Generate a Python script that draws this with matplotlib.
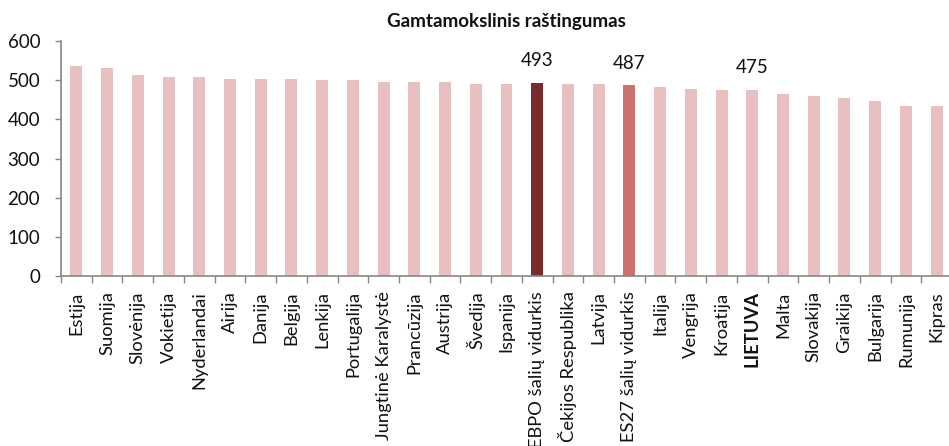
import matplotlib
matplotlib.use("Agg")
import matplotlib.pyplot as plt
import numpy as np

categories = ["Estija", "Suomija", "Slovėnija", "Vokietija", "Nyderlandai", "Airija",
              "Danija", "Belgija", "Lenkija", "Portugalija", "Jungtinė Karalystė",
              "Prancūzija", "Austrija", "Švedija", "Ispanija", "EBPO šalių vidurkis",
              "Čekijos Respublika", "Latvija", "ES27 šalių vidurkis", "Italija",
              "Vengrija", "Kroatija", "LIETUVA", "Malta", "Slovakija", "Graikija",
              "Bulgarija", "Rumunija", "Kipras"]
values = [535, 530, 512, 508, 508, 504, 504, 504, 500, 500, 495, 495, 495, 491,
          491, 493, 491, 491, 487, 482, 477, 476, 475, 464, 460, 455, 447, 434, 434]
labelled = {"EBPO šalių vidurkis": "493", "ES27 šalių vidurkis": "487", "LIETUVA": "475"}
yticks = [0, 100, 200, 300, 400, 500, 600]
title = "Gamtamokslinis raštingumas"

plt.rcParams['font.family'] = ['Lato', 'DejaVu Sans']

fig = plt.figure(figsize=(9.49, 4.46), dpi=100)
ax = fig.add_axes([61 / 949, (446 - 276) / 446, (952 - 61) / 949, (276 - 41) / 446])

c_light = "#E8C0C0"
c_dark = "#7A2C2C"
c_mid = "#CC7170"
colors = []
for c in categories:
    if c == "EBPO šalių vidurkis":
        colors.append(c_dark)
    elif c == "ES27 šalių vidurkis":
        colors.append(c_mid)
    else:
        colors.append(c_light)

x = np.arange(len(categories))
ax.bar(x, values, width=0.39, color=colors, zorder=2)

for i, c in enumerate(categories):
    if c in labelled:
        ax.annotate(labelled[c], (x[i], values[i]), xytext=(0, 12),
                    textcoords='offset points', ha='center', va='baseline',
                    fontsize=13.5, color='#111111')

ax.set_xlim(-0.5, len(categories) - 0.5)
ax.set_ylim(0, 600)
ax.set_yticks(yticks)
ax.tick_params(axis='y', length=4.5, width=1, color='#868686', pad=10.5,
               labelsize=13.5, labelcolor='#111111')

ax.set_xticks(x)
ax.set_xticklabels(categories, rotation=90, fontsize=13.2, color='#111111',
                   va='top', ha='center')
ax.set_xticks(np.arange(-0.5, len(categories), 1), minor=True)
ax.tick_params(axis='x', which='major', length=0, pad=11)
ax.tick_params(axis='x', which='minor', length=5, width=1, color='#868686')
for lbl in ax.get_xticklabels():
    if lbl.get_text() == "LIETUVA":
        lbl.set_fontweight('bold')

for s in ['top', 'right']:
    ax.spines[s].set_visible(False)
for s in ['left', 'bottom']:
    ax.spines[s].set_color('#868686')
    ax.spines[s].set_linewidth(1.2)

ax.set_title(title, fontsize=13.5, fontweight='bold', pad=10, color='#111111')

fig.savefig("out.png", dpi=100)
